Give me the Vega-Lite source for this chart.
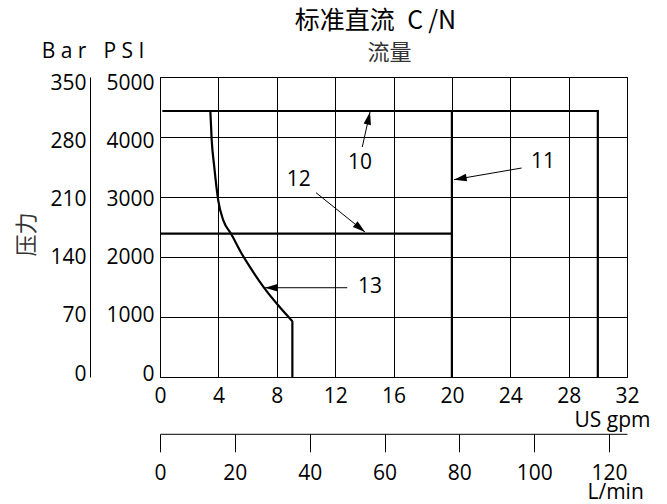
{
  "$schema": "https://vega.github.io/schema/vega-lite/v6.json",
  "width": 467,
  "height": 300,
  "autosize": {"type": "none"},
  "padding": {"left": 160, "top": 77, "right": 40, "bottom": 127},
  "background": "white",
  "config": {
    "view": {"stroke": "#000", "strokeWidth": 1},
    "font": "Open Sans",
    "axis": {
      "labelFont": "Open Sans", "labelFontSize": 21, "labelColor": "#000", "format": "d",
      "titleFont": "Open Sans", "titleFontSize": 21, "titleColor": "#000", "titleFontWeight": "normal",
      "gridColor": "#000", "gridOpacity": 1, "gridWidth": 1,
      "domainColor": "#000", "tickColor": "#000", "labelOverlap": false, "labelFlush": false
    }
  },
  "title": {
    "text": "标准直流\u2002C\u2009/N",
    "font": "Noto Sans CJK SC", "fontSize": 25, "fontWeight": "normal", "color": "#000",
    "anchor": "middle", "dx": -18, "offset": 6
  },
  "datasets": {
    "lines": [
      {"series": "10", "ord": 1, "gpm": 0.16, "psi": 4433},
      {"series": "10", "ord": 2, "gpm": 30, "psi": 4433},
      {"series": "10", "ord": 3, "gpm": 30, "psi": 0},
      {"series": "11", "ord": 1, "gpm": 20, "psi": 4433},
      {"series": "11", "ord": 2, "gpm": 20, "psi": 0},
      {"series": "12", "ord": 1, "gpm": 0, "psi": 2388},
      {"series": "12", "ord": 2, "gpm": 20, "psi": 2388},
      {"series": "13", "ord": 1, "gpm": 9.07, "psi": 931},
      {"series": "13", "ord": 2, "gpm": 9.07, "psi": 0}
    ],
    "curve": [
      {"gpm": 3.45, "psi": 4433},
      {"gpm": 3.54, "psi": 3961},
      {"gpm": 3.72, "psi": 3499},
      {"gpm": 3.99, "psi": 2944},
      {"gpm": 4.34, "psi": 2610},
      {"gpm": 4.87, "psi": 2388},
      {"gpm": 5.6, "psi": 2055},
      {"gpm": 6.17, "psi": 1831},
      {"gpm": 7.15, "psi": 1481},
      {"gpm": 8.11, "psi": 1192},
      {"gpm": 9.07, "psi": 931}
    ],
    "arrows": [
      {"label": 10, "gpm": 14.39, "psi": 4416, "gpm2": 13.86, "psi2": 3833},
      {"label": 11, "gpm": 20.15, "psi": 3289, "gpm2": 24.78, "psi2": 3483},
      {"label": 12, "gpm": 14.05, "psi": 2415, "gpm2": 10.69, "psi2": 3072},
      {"label": 13, "gpm": 7.19, "psi": 1488, "gpm2": 12.83, "psi2": 1488}
    ],
    "labels": [
      {"label": 10, "gpm": 13.7, "psi": 3569},
      {"label": 11, "gpm": 26.24, "psi": 3583},
      {"label": 12, "gpm": 9.5, "psi": 3286},
      {"label": 13, "gpm": 14.39, "psi": 1493}
    ],
    "bar_ticks": [{"bar": 0}, {"bar": 70}, {"bar": 140}, {"bar": 210}, {"bar": 280}, {"bar": 350}],
    "lpm_ticks": [{"lpm": 0}, {"lpm": 20}, {"lpm": 40}, {"lpm": 60}, {"lpm": 80}, {"lpm": 100}, {"lpm": 120}]
  },
  "layer": [
    {
      "encoding": {
        "x": {
          "field": "gpm", "type": "quantitative",
          "scale": {"domain": [0, 32], "nice": false, "zero": false},
          "axis": {
            "orient": "bottom", "values": [0, 4, 8, 12, 16, 20, 24, 28, 32],
            "grid": true, "ticks": false, "tickSize": 0, "domain": false, "labelPadding": 8,
            "title": "US gpm", "titleX": 490, "titleY": 49.5, "titleAlign": "right",
            "titleBaseline": "alphabetic", "titleAngle": 0
          }
        },
        "y": {
          "field": "psi", "type": "quantitative",
          "scale": {"domain": [0, 5000], "nice": false},
          "axis": {
            "orient": "left", "values": [0, 1000, 2000, 3000, 4000, 5000],
            "grid": true, "ticks": false, "tickSize": 0, "domain": false, "labels": false,
            "title": "P S I", "titleX": -36.5, "titleY": -20, "titleAngle": 0,
            "titleAlign": "center", "titleBaseline": "alphabetic"
          }
        }
      },
      "layer": [
        {
          "data": {"name": "lines"},
          "mark": {"type": "line", "color": "#000", "strokeWidth": 2.2, "strokeJoin": "miter", "strokeCap": "butt"},
          "encoding": {
            "detail": {"field": "series", "type": "nominal"},
            "order": {"field": "ord", "type": "quantitative"}
          }
        },
        {
          "data": {"name": "curve"},
          "mark": {"type": "line", "color": "#000", "strokeWidth": 2.2, "interpolate": "monotone", "strokeCap": "butt"}
        },
        {
          "data": {"name": "arrows"},
          "mark": {"type": "rule", "color": "#000", "strokeWidth": 1},
          "encoding": {"x2": {"field": "gpm2"}, "y2": {"field": "psi2"}}
        },
        {
          "data": {"name": "arrows"},
          "mark": {"type": "point", "shape": "M0,0L0.62,2.1L-0.62,2.1Z", "filled": true, "color": "#000", "size": 144, "opacity": 1, "strokeWidth": 0},
          "encoding": {
            "angle": {"field": "label", "type": "quantitative", "scale": {"domain": [10, 11, 12, 13], "range": [12.4, 260.3, 128.8, 270]}, "legend": null}
          }
        },
        {
          "data": {"name": "labels"},
          "mark": {"type": "text", "font": "Open Sans", "fontSize": 21, "color": "#000", "align": "center", "baseline": "middle"},
          "encoding": {"text": {"field": "label", "type": "quantitative", "format": "d"}}
        }
      ]
    },
    {
      "data": {"name": "bar_ticks"},
      "mark": {"type": "point", "opacity": 0},
      "encoding": {
        "y": {
          "field": "bar", "type": "quantitative",
          "scale": {"domain": [0, 350], "nice": false, "range": [297, 6.7]},
          "axis": {
            "orient": "left", "offset": 70, "values": [0, 70, 140, 210, 280, 350],
            "domain": false, "ticks": false, "tickSize": 0, "grid": false, "labelPadding": 4,
            "title": "B a r", "titleX": -26.5, "titleY": -20, "titleAngle": 0,
            "titleAlign": "center", "titleBaseline": "alphabetic"
          }
        }
      }
    },
    {
      "data": {"name": "bar_ticks"},
      "mark": {"type": "point", "opacity": 0},
      "encoding": {
        "y": {
          "field": "bar", "type": "quantitative",
          "scale": {"domain": [0, 350], "nice": false},
          "axis": {
            "orient": "left", "offset": 70, "domain": true, "domainWidth": 1,
            "labels": false, "ticks": false, "tickSize": 0, "grid": false, "title": null
          }
        }
      }
    },
    {
      "data": {"name": "lpm_ticks"},
      "mark": {"type": "point", "opacity": 0},
      "encoding": {
        "x": {
          "field": "lpm", "type": "quantitative",
          "scale": {"domain": [0, 124.8], "nice": false, "zero": false},
          "axis": {
            "orient": "bottom", "offset": 56.8, "values": [0, 20, 40, 60, 80, 100, 120],
            "domain": true, "domainWidth": 1, "ticks": true, "tickSize": 18, "tickWidth": 1,
            "grid": false, "labelPadding": 11,
            "title": "L/min", "titleX": 483.3, "titleY": 64.5, "titleAlign": "right",
            "titleBaseline": "alphabetic", "titleAngle": 0
          }
        }
      }
    },
    {
      "data": {"name": "labels"},
      "mark": {"type": "point", "opacity": 0},
      "encoding": {
        "x": {
          "field": "gpm", "type": "quantitative",
          "scale": {"domain": [0, 32], "nice": false, "zero": false},
          "axis": {
            "orient": "top", "labels": false, "ticks": false, "tickSize": 0, "domain": false, "grid": false,
            "title": "流量", "titleFont": "Noto Sans CJK SC", "titleFontSize": 22, "titleColor": "#333",
            "titleX": 229, "titleY": -18, "titleAlign": "center", "titleBaseline": "alphabetic", "titleAngle": 0
          }
        },
        "y": {
          "field": "psi", "type": "quantitative",
          "scale": {"domain": [0, 5000], "nice": false, "range": [297, 6.7]},
          "axis": {
            "orient": "left", "values": [0, 1000, 2000, 3000, 4000, 5000],
            "domain": false, "ticks": false, "tickSize": 0, "grid": false, "labelPadding": 6,
            "title": "压力", "titleFont": "Noto Sans CJK SC", "titleFontSize": 22, "titleColor": "#333",
            "titleX": -127, "titleY": 157, "titleAngle": 270, "titleAlign": "center", "titleBaseline": "alphabetic"
          }
        }
      }
    }
  ],
  "resolve": {"scale": {"x": "independent", "y": "independent"}}
}
